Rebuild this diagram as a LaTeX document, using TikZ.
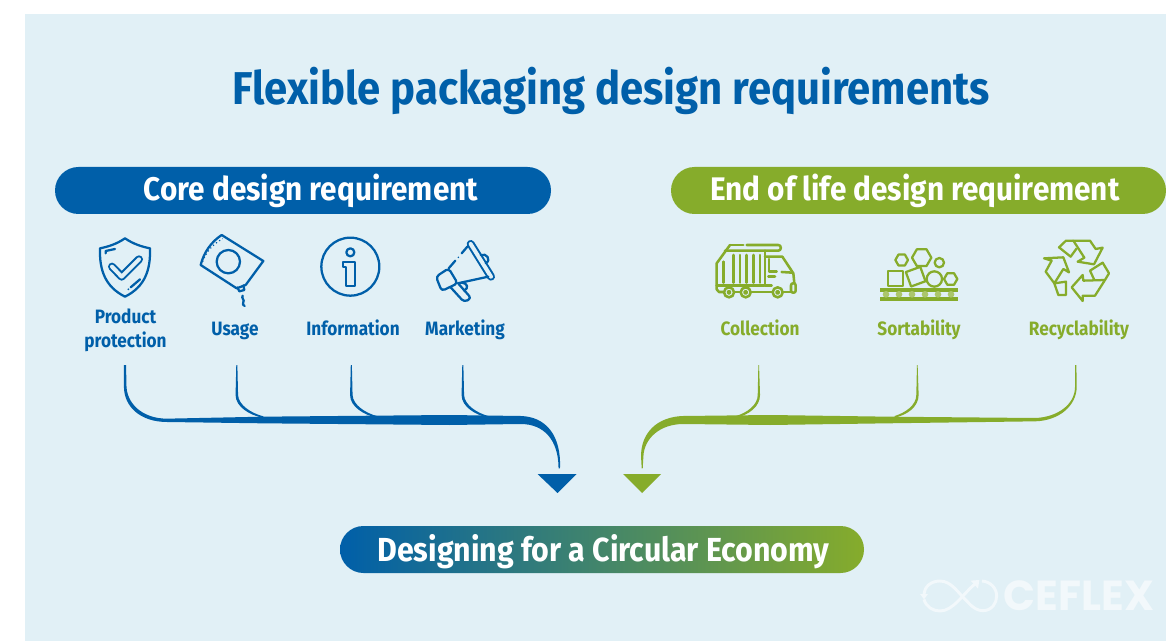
\documentclass[tikz,border=0pt]{standalone}
\usepackage{fontspec}
\setmainfont{Fira Sans}[FakeStretch=0.91]
\newfontfamily\labfont{Fira Sans}[FakeStretch=0.89]
\newfontfamily\logofont{Poppins}
\usetikzlibrary{shapes.misc}
\definecolor{bg}{HTML}{E1F0F6}
\definecolor{cblue}{HTML}{005FA9}
\definecolor{cgreen}{HTML}{86AC2B}
\definecolor{croll}{HTML}{ABC66B}
\definecolor{clogo}{HTML}{F2F8FB}
\newlength{\px}\setlength{\px}{0.75pt}
\tikzset{
  pill/.style={rounded rectangle,minimum height=47\px,inner sep=0pt,text=white},
  pilltext/.style={text=white,inner sep=0pt,anchor=base,font=\bfseries\fontsize{24.5pt}{26pt}\selectfont},
  lab/.style={align=center,inner sep=0pt,font=\labfont\bfseries\fontsize{14.5pt}{18pt}\selectfont},
  ic/.style={line width=1.7pt,line join=round,line cap=round},
  hollow/.style={line width=1.5pt,double=bg,double distance=3pt,line cap=round,line join=round},
  zb/.style={xscale=1/2.8,yscale=1/3},
  z3/.style={scale=1/3},
  pics/bbranch/.style={code={\fill[cblue,zb] (-2,0)--(-4,90) .. controls (-4,125) and (34,150) .. (74,159) -- (74,154) .. controls (40,145) and (4,120) .. (3,90) -- (1,0) -- cycle;}},
  pics/gbranch/.style={code={\fill[cgreen,z3] (1,0)--(4,90) .. controls (4,125) and (-30,150) .. (-68,158)-- (-68,153) .. controls (-35,143) and (-3,120) .. (-3,90) -- (-1,0)--cycle;}},
}
\begin{document}
\begin{tikzpicture}[x=0.75pt,y=-0.75pt]
\useasboundingbox (0,0) rectangle (1166,641);
\fill[bg] (25,14) rectangle (1166,641);

\node[text=cblue,inner sep=0pt,anchor=base,font=\bfseries\fontsize{34.5pt}{36pt}\selectfont] (title) at (611,105) {Flexible packaging design requirements};
\node[pill,fill=cblue,minimum width=496\px] (core) at (303,190.5) {};
\node[pilltext] (coret) at (311,201) {Core design requirement};
\node[pill,fill=cgreen,minimum width=495\px] (eol) at (918.5,190.5) {};
\node[pilltext] (eolt) at (915,201) {End of life design requirement};
\node[pill,left color=cblue,right color=cgreen,minimum width=524\px] (goal) at (602,549.5) {};
\node[pilltext,font=\bfseries\fontsize{25pt}{26pt}\selectfont] (goalt) at (603.5,561) {Designing for a Circular Economy};

% labels
\node[lab,text=cblue] (l1) at (125.5,330.5) {Product\\protection};
\node[lab,text=cblue,anchor=base] (l2) at (235,335.5) {Usage};
\node[lab,text=cblue,anchor=base] (l3) at (353,335.5) {Information};
\node[lab,text=cblue,anchor=base] (l4) at (465,335.5) {Marketing};
\node[lab,text=cgreen,anchor=base] (l5) at (760,335.5) {Collection};
\node[lab,text=cgreen,anchor=base] (l6) at (919,335.5) {Sortability};
\node[lab,text=cgreen,anchor=base] (l7) at (1079,335.5) {Recyclability};

% shield + pouch (zoom origin 80,230)
\begin{scope}[shift={(80,230)},z3,ic,draw=cblue]
\draw (135,25) .. controls (110,42) and (85,50) .. (60,55) .. controls (58,120) and (75,170) .. (135,200) .. controls (195,170) and (212,120) .. (210,55) .. controls (185,50) and (160,42) .. (135,25) -- cycle;
\draw (77,70)--(77,63)--(105,57);
\draw (152,172)--(180,148);
\fill[cblue] (145,178) circle (3);
\draw[hollow,cblue] (96,110)--(125,140)--(177,88);
\draw (362,105) .. controls (372,65) and (395,35) .. (425,15) -- (550,93) -- (497,165) -- (470,175) -- cycle;
\draw[dotted,line width=.9pt,line cap=butt] (368,95) .. controls (378,65) and (400,42) .. (428,26);
\draw (445,95) circle (35);
\draw (472,172)--(478,184)--(493,180)--(490,166);
\draw (488,197) .. controls (483,205) and (495,210) .. (490,216) .. controls (486,222) and (490,226) .. (494,228);
\end{scope}
% info + megaphone (zoom origin 310,230)
\begin{scope}[shift={(310,230)},z3,ic,draw=cblue]
\draw (121,110) circle (87);
\draw (121,67) circle (12);
\draw (100,95)--(135,95)--(135,168)--(108,168)--(108,110)--(100,110)--cycle;
\draw[hollow,cblue] (482,42)--(543,140);
\draw (472,50)--(455,70);
\fill[cblue] (445,82) circle (2.5);
\draw (436,92)--(416,115);
\draw (535,140)--(443,160);
\draw[rounded corners=2.5pt] (378,140)--(416,115)--(443,160)--(395,183)--cycle;
\draw[rounded corners=2.5pt] (422,172)--(462,216)--(484,205)--(446,162);
\draw (512,75) .. controls (530,68) and (545,90) .. (527,100);
\draw (455,158) .. controls (472,158) and (478,175) .. (462,182);
\end{scope}
% truck (origin 705,230)
\begin{scope}[shift={(705,230)},z3,ic,line width=1.9pt,draw=cgreen]
\draw (75,45)--(115,45);
\draw (125,45)--(220,45) .. controls (230,45) and (230,62) .. (220,62)--(60,62);
\draw (75,45)--(35,100)--(35,178)--(42,186)--(55,186);
\draw (35,166)--(178,166);
\draw (90,186)--(105,186);\draw (140,186)--(200,186);\draw (235,186)--(258,186);
\foreach \x/\y in {55/95,85/75,105/75,125/75,145/75,165/75} \draw (\x,\y)--(\x,158);
\draw (180,62)--(180,166)--(200,166);
\draw (180,80)--(232,80)--(265,130)--(268,160);
\draw (192,87)--(192,125)--(215,125);
\draw (230,126)--(262,128);
\draw (190,140)--(210,140);
\foreach \x in {72,122,218} {\draw (\x,187) circle (15);\draw (\x,187) circle (4);}
\draw[rounded corners=1.5pt] (258,160) rectangle (272,188);
\end{scope}
% sorting (origin 870,235)
\begin{scope}[shift={(870,235)},z3,ic,draw=cgreen,line cap=butt]
\fill[cgreen] (30,158) rectangle (263,170);
\fill[cgreen] (30,187) rectangle (263,197);
\foreach \x in {48,87,126,165,204,243} \fill[croll] (\x,178) circle (10);
\draw (55,108) rectangle (100,152);
\draw[rotate around={20:(137,125)}] (114,102) rectangle (160,148);
\draw (193,132) circle (23);
\draw (208,83) circle (14);
\foreach \cx/\cy/\r in {242/132/20,95/75/19,155/68/29} {
 \draw (\cx+\r,\cy)--(\cx+.5*\r,\cy+.866*\r)--(\cx-.5*\r,\cy+.866*\r)--(\cx-\r,\cy)--(\cx-.5*\r,\cy-.866*\r)--(\cx+.5*\r,\cy-.866*\r)--cycle;}
\end{scope}
% recycle (origin 1030,230)
\begin{scope}[shift={(1030,230)},z3,ic,draw=cgreen,line cap=butt]
\draw (130,32)--(180,32)--(197,57)--(218,53)--(192,103)--(143,95)--(163,83)--cycle;
\draw (130,32)--(108,32)--(87,52)--(122,80)--(140,55);
\draw (158,135)--(125,172)--(158,213)--(158,197)--(195,197)--(225,150)--(160,152)--cycle;
\draw (193,150)--(180,122)--(218,98)--(237,130)--(225,150);
\draw (42,85)--(100,82)--(117,127)--(100,117)--(73,160)--(47,125)--(65,92)--cycle;
\draw (73,160)--(108,155)--(108,195)--(85,195)--(73,160);
\end{scope}

% connectors: named tops
\coordinate (b1) at (125,365);
\coordinate (b2) at (237,365);
\coordinate (b3) at (351.5,365);
\coordinate (b4) at (463,365);
\coordinate (g1) at (758.7,365);
\coordinate (g2) at (917.3,365);
\coordinate (g3) at (1075.7,365);
\coordinate (tb) at (557.5,493);
\coordinate (tg) at (642,493);

\begin{scope}[shift={(b1)},zb,shift={(-42,-15)}]
\fill[cblue] (39,15)--(39,80) .. controls (39,140) and (85,186) .. (160,186)
 -- (430,190) -- (950,195) -- (1150,192) .. controls (1215,192) and (1256,240) .. (1256,325) -- (1260,325)
 .. controls (1264,225) and (1220,170) .. (1150,168) -- (950,165) -- (430,170) -- (160,176)
 .. controls (90,176) and (46,130) .. (46,75) -- (45,15) -- cycle;
\end{scope}
\pic at (b2) {bbranch};
\pic at (b3) {bbranch};
\pic at (b4) {bbranch};
\begin{scope}[shift={(g3)},z3,shift={(-1367,-15)}]
\fill[cgreen] (1365,15)--(1365,80) .. controls (1365,135) and (1310,172) .. (1245,174) -- (800,170) -- (450,165) -- (190,168)
 .. controls (110,170) and (62,220) .. (63,290) -- (65,325) -- (68,325) -- (70,290)
 .. controls (72,235) and (120,192) .. (190,192) -- (450,195) -- (800,190) -- (1245,184)
 .. controls (1320,182) and (1370,135) .. (1370,80) -- (1369,15) -- cycle;
\end{scope}
\pic at (g1) {gbranch};
\pic at (g2) {gbranch};
\fill[cblue] (tb) -- ++(-20,-19) -- ++(39,0) -- cycle;
\fill[cgreen] (tg) -- ++(-19,-19) -- ++(38,0) -- cycle;

% logo (origin 900,560)
\begin{scope}[shift={(900,560)},z3]
\draw[clogo,line width=2.2pt] (72,106) .. controls (72,78) and (95,63) .. (120,63) .. controls (155,63) and (175,100) .. (205,128) .. controls (220,145) and (235,152) .. (248,152) .. controls (275,152) and (290,130) .. (290,108) .. controls (290,85) and (272,65) .. (246,63);
\draw[clogo,line width=2.2pt] (72,118) .. controls (78,140) and (98,153) .. (120,153) .. controls (160,153) and (190,100) .. (225,72);
\fill[clogo] (60,102)--(84,102)--(72,118)--cycle;
\fill[clogo] (212,62)--(238,60)--(234,86)--cycle;
\node[text=clogo,anchor=west,inner sep=0pt,font=\logofont\bfseries\fontsize{31.5pt}{32pt}\selectfont] (logo) at (310,108) {CEFLEX};
\end{scope}
\end{tikzpicture}
\end{document}
